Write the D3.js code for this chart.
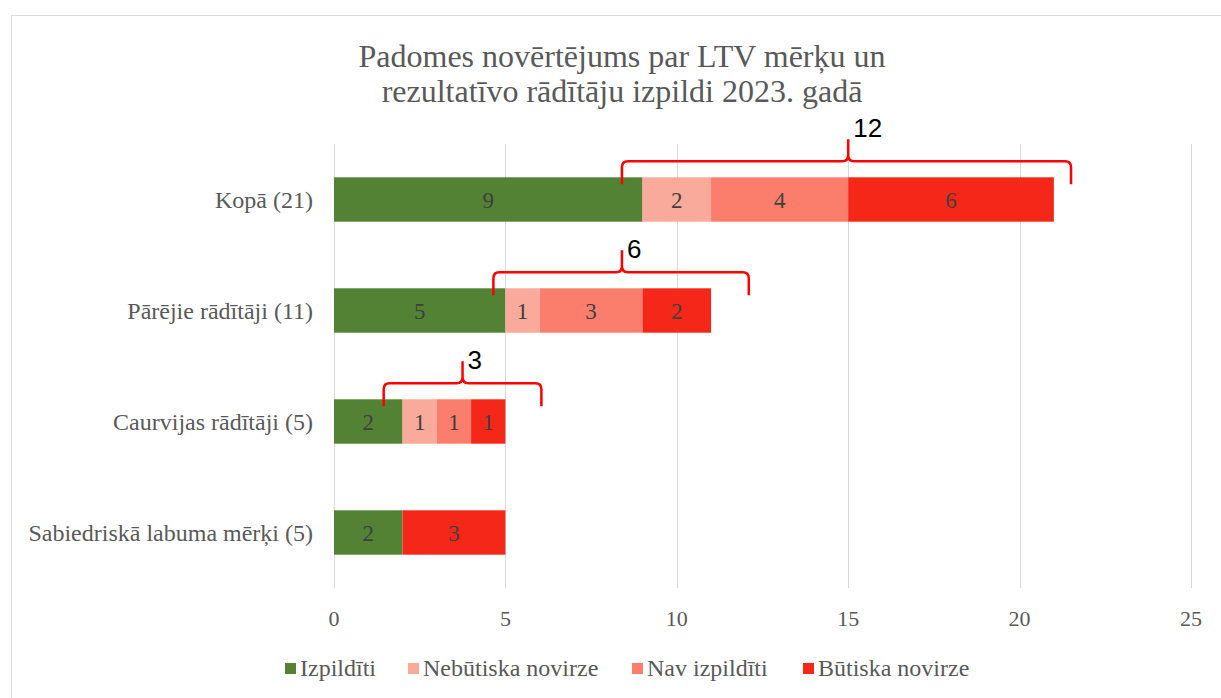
<!DOCTYPE html>
<meta charset="utf-8">
<style>
body { margin: 0; background: #fff; }
text { font-family: "Liberation Serif", "Times New Roman", serif; }
.grid line { stroke: #d9d9d9; stroke-width: 1; }
.tick-label { fill: #595959; font-size: 22px; }
.cat-label { fill: #595959; font-size: 24px; }
.legend text { fill: #595959; font-size: 24px; }
.title { fill: #595959; font-size: 32px; }
.value { fill: #404040; font-size: 23px; }
.brace { fill: none; stroke: #ff0000; stroke-width: 2.5; }
.brace-label { font-family: "Liberation Sans", Arial, sans-serif; font-size: 26px; fill: #000; }
</style>
<body>
<script src="https://d3js.org/d3.v7.min.js"></script>
<script>

// chart data
var categories = ["Kopā (21)", "Pārējie rādītāji (11)", "Caurvijas rādītāji (5)", "Sabiedriskā labuma mērķi (5)"];
var seriesNames = ["Izpildīti", "Nebūtiska novirze", "Nav izpildīti", "Būtiska novirze"];
var izpilditi = [9, 5, 2, 2];
var nebutiska = [2, 1, 1, 0];
var navIzpilditi = [4, 3, 1, 0];
var butiska = [6, 2, 1, 3];
var xTicks = [0, 5, 10, 15, 20, 25];
var colors = ["#548235", "#f9aa9b", "#fa7e6b", "#f52718"];

// brace annotations (category, start, tip, end, label)
var braceCats = ["Kopā (21)", "Pārējie rādītāji (11)", "Caurvijas rādītāji (5)"];
var braceFrom = [8.4, 4.65, 1.45];
var braceTip = [15, 8.4, 3.75];
var braceTo = [21.5, 12.1, 6.05];
var braceLabels = ["12", "6", "3"];

var W = 1221, H = 698;
var plotLeft = 334, plotRight = 1191, plotTop = 144, plotBottom = 588;

var svg = d3.select("body").append("svg")
    .attr("width", W)
    .attr("height", H);

// outer border
svg.append("rect")
    .attr("x", 11.5).attr("y", 15.5)
    .attr("width", W).attr("height", H)
    .attr("fill", "none")
    .attr("stroke", "#d9d9d9");

var x = d3.scaleLinear().domain([0, 25]).range([plotLeft, plotRight]);
var y = d3.scaleBand().domain(categories).range([plotTop, plotBottom]).paddingInner(0.6).paddingOuter(0.3);

svg.append("text")
    .attr("class", "title")
    .attr("x", 622).attr("y", 67)
    .attr("text-anchor", "middle")
    .text("Padomes novērtējums par LTV mērķu un");
svg.append("text")
    .attr("class", "title")
    .attr("x", 622).attr("y", 102)
    .attr("text-anchor", "middle")
    .text("rezultatīvo rādītāju izpildi 2023. gadā");

// gridlines
svg.append("g").attr("class", "grid")
  .selectAll("line")
  .data(xTicks)
  .enter().append("line")
    .attr("x1", function(d) { return Math.round(x(d)) + 0.5; })
    .attr("x2", function(d) { return Math.round(x(d)) + 0.5; })
    .attr("y1", plotTop)
    .attr("y2", plotBottom);

svg.selectAll(".tick-label")
  .data(xTicks)
  .enter().append("text")
    .attr("class", "tick-label")
    .attr("x", function(d) { return x(d); })
    .attr("y", 618)
    .attr("dy", "0.35em")
    .attr("text-anchor", "middle")
    .text(function(d) { return d; });

svg.selectAll(".cat-label")
  .data(categories)
  .enter().append("text")
    .attr("class", "cat-label")
    .attr("x", plotLeft - 21)
    .attr("y", function(d) { return y(d) + y.bandwidth() / 2; })
    .attr("dy", "0.35em")
    .attr("text-anchor", "end")
    .text(function(d) { return d; });

// stacked bars
var rows = categories.map(function(c, i) {
  return { cat: c, s0: izpilditi[i], s1: nebutiska[i], s2: navIzpilditi[i], s3: butiska[i] };
});
var stack = d3.stack().keys(["s0", "s1", "s2", "s3"]);
var layers = stack(rows);

var layer = svg.selectAll(".layer")
  .data(layers)
  .enter().append("g")
    .attr("class", "layer")
    .attr("fill", function(d, i) { return colors[i]; });

layer.selectAll("rect")
  .data(function(d) { return d.filter(function(p) { return p[1] - p[0] > 0; }); })
  .enter().append("rect")
    .attr("x", function(d) { return x(d[0]); })
    .attr("y", function(d) { return y(d.data.cat); })
    .attr("width", function(d) { return x(d[1]) - x(d[0]); })
    .attr("height", y.bandwidth());

layer.selectAll(".value")
  .data(function(d) { return d.filter(function(p) { return p[1] - p[0] > 0; }); })
  .enter().append("text")
    .attr("class", "value")
    .attr("x", function(d) { return x((d[0] + d[1]) / 2); })
    .attr("y", function(d) { return y(d.data.cat) + y.bandwidth() / 2; })
    .attr("dy", "0.35em")
    .attr("text-anchor", "middle")
    .text(function(d) { return d[1] - d[0]; });

// curly braces
var r = 6;
braceCats.forEach(function(c, i) {
  var yt = y(c);
  var yb = yt + 7, yh = yt - 16, ytip = yt - 38;
  var x1 = x(braceFrom[i]), xt = x(braceTip[i]), x2 = x(braceTo[i]);
  var p = d3.path();
  p.moveTo(x1, yb);
  p.lineTo(x1, yh + r);
  p.quadraticCurveTo(x1, yh, x1 + r, yh);
  p.lineTo(xt - r, yh);
  p.quadraticCurveTo(xt, yh, xt, yh - r);
  p.lineTo(xt, ytip);
  p.moveTo(xt, yh - r);
  p.quadraticCurveTo(xt, yh, xt + r, yh);
  p.lineTo(x2 - r, yh);
  p.quadraticCurveTo(x2, yh, x2, yh + r);
  p.lineTo(x2, yb);
  svg.append("path").attr("class", "brace").attr("d", p.toString());
  // the top label sits above the plot area, the others next to the tip
  var ly = ytip < plotTop ? ytip - 11 : ytip - 1;
  svg.append("text")
    .attr("class", "brace-label")
    .attr("x", xt + 5)
    .attr("y", ly)
    .attr("dy", "0.35em")
    .text(braceLabels[i]);
});

// legend
var legendX = [285, 408, 632, 803];
var legend = svg.append("g").attr("class", "legend");
seriesNames.forEach(function(n, i) {
  legend.append("rect")
    .attr("x", legendX[i]).attr("y", 663)
    .attr("width", 11).attr("height", 11)
    .attr("fill", colors[i]);
  legend.append("text")
    .attr("x", legendX[i] + 15).attr("y", 668)
    .attr("dy", "0.35em")
    .text(n);
});
</script>
</body>
